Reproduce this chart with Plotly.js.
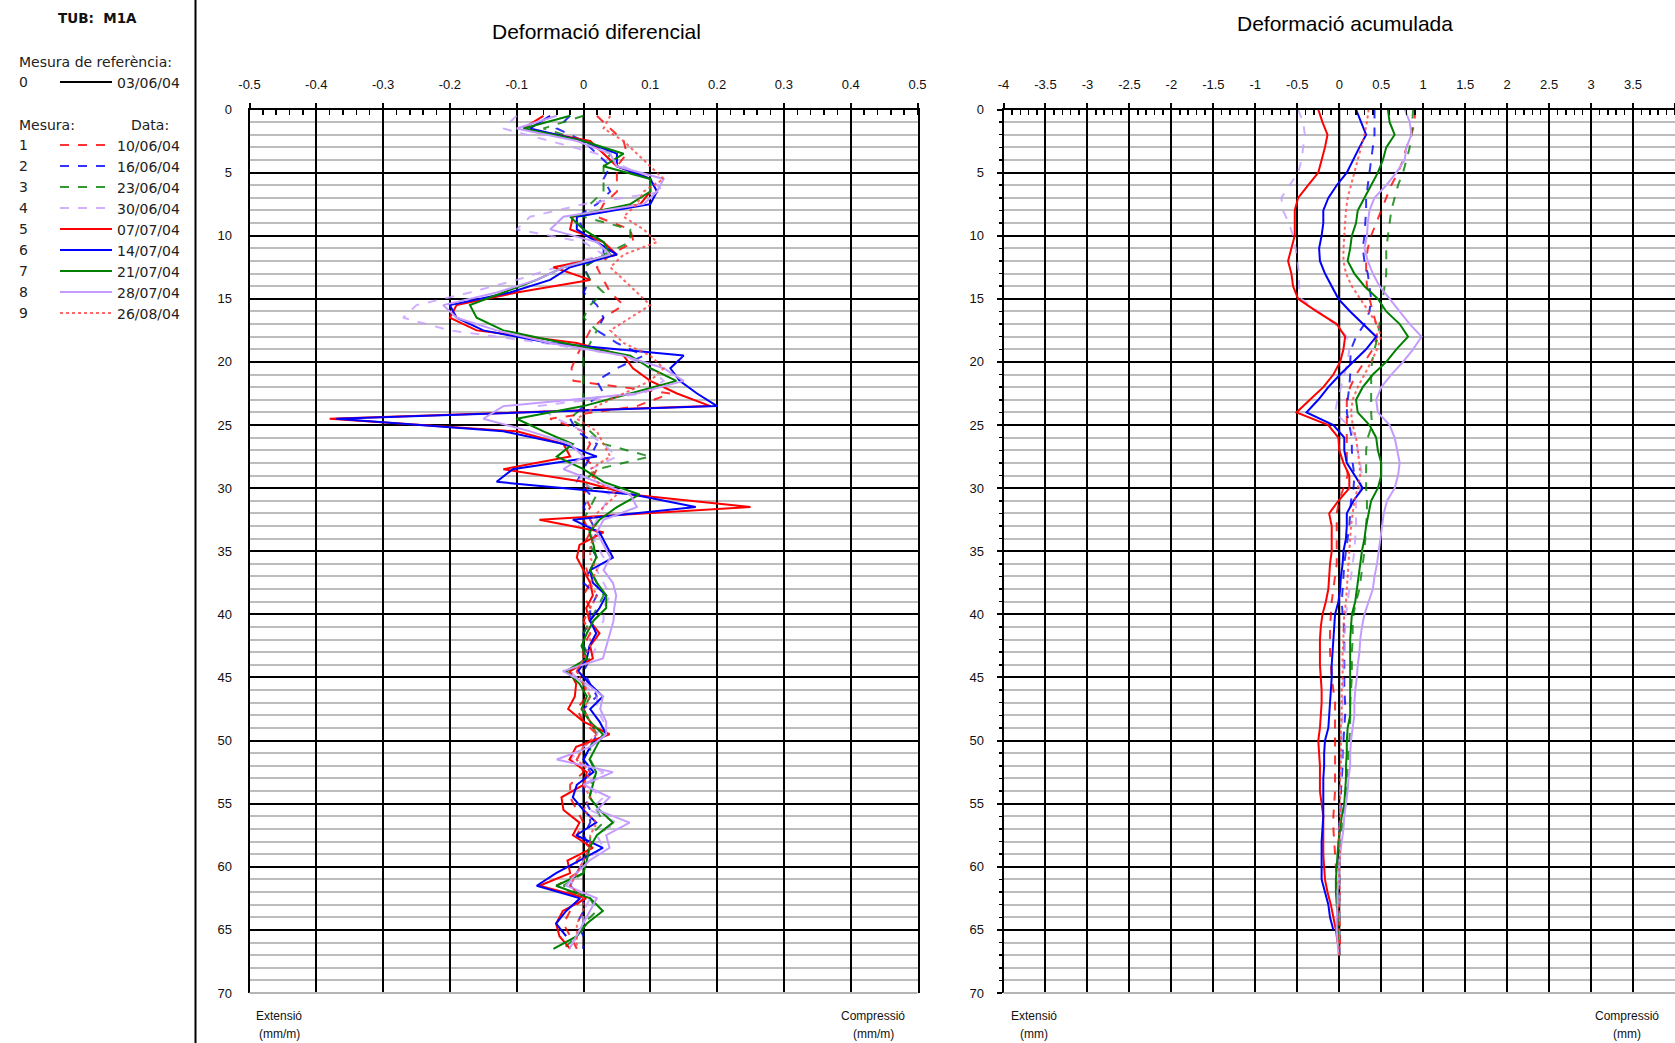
<!DOCTYPE html>
<html><head><meta charset="utf-8">
<script src="https://cdn.plot.ly/plotly-3.0.1.min.js"></script>
<style>html,body{margin:0;padding:0;background:#fff}#chart{width:1675px;height:1043px}</style>
</head><body><div id="chart"></div>
<script>
// ---------- DATA ----------
const depthDiff = [0.5,1.5,2.5,3.5,4.5,5.5,6.5,7.5,8.5,9.5,10.5,11.5,12.5,13.5,14.5,15.5,16.5,17.5,18.5,19.5,20.5,21.5,22.5,23.5,24.5,25.5,26.5,27.5,28.5,29.5,30.5,31.5,32.5,33.5,34.5,35.5,36.5,37.5,38.5,39.5,40.5,41.5,42.5,43.5,44.5,45.5,46.5,47.5,48.5,49.5,50.5,51.5,52.5,53.5,54.5,55.5,56.5,57.5,58.5,59.5,60.5,61.5,62.5,63.5,64.5,65.5,66.5];
const depthAcc = [0,1,2,3,4,5,6,7,8,9,10,11,12,13,14,15,16,17,18,19,20,21,22,23,24,25,26,27,28,29,30,31,32,33,34,35,36,37,38,39,40,41,42,43,44,45,46,47,48,49,50,51,52,53,54,55,56,57,58,59,60,61,62,63,64,65,66,67];

const measureNums  = ['0','1','2','3','4','5','6','7','8','9'];
const measureDates = ['03/06/04','10/06/04','16/06/04','23/06/04','30/06/04','07/07/04','14/07/04','21/07/04','28/07/04','26/08/04'];

const diffTicksVal  = [-0.5,-0.4,-0.3,-0.2,-0.1,0,0.1,0.2,0.3,0.4,0.5];
const diffTicksText = ['-0.5','-0.4','-0.3','-0.2','-0.1','0','0.1','0.2','0.3','0.4','0.5'];
const accTicksVal   = [-4,-3.5,-3,-2.5,-2,-1.5,-1,-0.5,0,0.5,1,1.5,2,2.5,3,3.5,4];
const accTicksText  = ['-4','-3.5','-3','-2.5','-2','-1.5','-1','-0.5','0','0.5','1','1.5','2','2.5','3','3.5','4'];

// Deformació diferencial (mm/m)
const diff0 = [0,0,0,0,0,0,0,0,0,0,0,0,0,0,0,0,0,0,0,0,0,0,0,0,0,0,0,0,0,0,0,0,0,0,0,0,0,0,0,0,0,0,0,0,0,0,0,0,0,0,0,0,0,0,0,0,0,0,0,0,0,0,0,0,0,0,0];
const diff1 = [0.02,0.04,0.06,0.065,0.05,0.05,0.05,0.03,0.02,0.07,0.075,0.04,0.02,0.03,0.04,0.06,0.03,0.01,0.0,-0.01,-0.018,-0.015,0.13,0.08,-0.05,0.0,0.01,0.0,0.02,0.01,0.0,0.01,0.0,0.01,0.0,0.0,0.005,0.01,0.0,0.01,0.0,0.01,0.0,0.0,-0.01,0.0,0.005,-0.01,0.0,0.02,0.0,-0.01,0.0,-0.02,-0.02,-0.01,0.0,-0.01,0.01,-0.01,-0.01,-0.04,0.0,-0.02,-0.03,-0.02,-0.01];
const diff2 = [-0.02,-0.04,0.0,0.02,0.04,0.03,0.04,0.02,-0.01,0.0,0.03,0.03,0.0,0.01,0.0,0.02,0.03,0.02,0.05,0.09,0.05,0.02,0.03,0.0,-0.02,-0.01,0.02,0.01,0.0,-0.01,0.01,0.0,0.01,0.02,0.01,0.02,0.01,0.0,0.02,0.01,0.01,0.0,0.0,0.01,0.0,0.01,0.02,0.0,0.01,0.02,0.01,0.0,0.01,0.0,0.0,0.01,0.01,0.0,0.01,0.0,-0.01,-0.02,0.0,0.0,-0.01,0.0,0.0];
const diff3 = [0.0,-0.06,0.0,0.04,0.03,0.03,0.03,0.01,0.0,0.07,0.07,0.03,0.0,0.01,0.03,0.01,0.0,0.02,0.01,0.0,0.0,0.0,0.0,0.0,-0.02,0.01,0.03,0.1,0.02,0.0,0.02,0.01,0.0,0.01,0.01,0.02,0.01,0.02,0.03,0.02,0.01,0.0,0.0,0.01,-0.02,0.0,0.01,0.0,0.01,0.02,0.01,0.01,0.02,0.01,0.01,0.02,0.03,0.01,0.01,0.0,0.0,-0.03,0.01,0.02,0.0,-0.01,-0.03];
const diff4 = [-0.1,-0.12,-0.05,0.02,0.06,0.1,0.12,0.0,-0.08,-0.1,0.0,0.03,-0.04,-0.1,-0.17,-0.25,-0.27,-0.2,-0.06,0.06,0.1,0.12,0.09,-0.07,-0.04,0.0,0.03,0.05,0.01,-0.01,0.04,0.03,0.02,0.01,0.02,0.03,0.02,0.03,0.04,0.03,0.03,0.02,0.02,0.01,-0.02,0.0,0.02,0.02,0.03,0.02,0.0,-0.02,0.03,0.0,0.03,0.01,0.05,0.02,0.03,0.0,-0.01,-0.02,0.01,0.0,0.0,-0.01,-0.02];
const diff5 = [-0.06,-0.09,0.01,0.03,0.05,0.1,0.1,0.085,-0.016,-0.02,0.03,0.05,-0.045,0.01,-0.1,-0.19,-0.2,-0.16,-0.01,0.06,0.074,0.1,0.14,0.19,-0.38,-0.1,-0.03,-0.02,-0.12,0.0,0.07,0.25,-0.066,0.03,-0.006,-0.01,0.0,0.01,0.014,0.004,0.009,0.024,0.01,0.014,-0.021,-0.011,-0.013,-0.023,0.0,0.039,-0.011,-0.021,0.005,0.0,-0.033,-0.03,-0.006,-0.016,0.014,-0.024,-0.02,-0.066,0.004,-0.031,-0.041,-0.036,-0.02];
const diff6 = [-0.05,-0.08,0.0,0.05,0.05,0.1,0.11,0.1,-0.01,-0.01,0.02,0.05,-0.02,-0.05,-0.11,-0.2,-0.19,-0.15,-0.05,0.15,0.13,0.144,0.17,0.2,-0.37,-0.12,-0.03,0.02,-0.106,-0.13,0.074,0.168,-0.016,0.024,0.034,0.044,0.01,0.014,0.034,0.024,0.01,0.019,0.009,0.005,-0.008,0.009,0.029,0.01,0.024,0.034,0.01,0.0,0.015,-0.01,-0.016,0.0,0.019,-0.011,0.029,-0.005,-0.041,-0.07,-0.005,-0.026,-0.041,-0.026,null];
const diff7 = [-0.02,-0.09,0.0,0.06,0.03,0.1,0.1,0.07,-0.02,0.0,0.03,0.04,-0.03,-0.07,-0.12,-0.17,-0.16,-0.12,-0.03,0.07,0.1,0.139,0.07,0.0,-0.1,-0.06,-0.016,-0.04,0.0,0.03,0.084,0.05,0.024,0.009,0.015,0.019,0.01,0.02,0.034,0.034,0.015,0.005,-0.003,0.005,-0.026,-0.006,0.005,-0.003,0.01,0.029,0.019,0.009,0.019,0.014,0.009,0.024,0.044,0.02,0.009,0.005,0.0,-0.041,0.01,0.029,0.005,-0.01,-0.045];
const diff8 = [-0.04,-0.1,-0.01,0.04,0.05,0.12,0.11,0.09,-0.03,-0.05,0.02,0.04,-0.03,-0.07,-0.13,-0.21,-0.19,-0.13,-0.05,0.06,0.12,0.15,0.08,-0.12,-0.15,-0.08,-0.02,0.0,-0.03,0.02,0.07,0.08,0.03,0.02,0.03,0.04,0.03,0.044,0.049,0.046,0.045,0.04,0.034,0.029,-0.031,0.005,0.029,0.025,0.034,0.034,0.01,-0.04,0.044,0.0,0.039,0.02,0.069,0.034,0.039,0.009,-0.01,-0.026,0.02,0.01,0.0,-0.01,-0.021];
const diff9 = [0.04,0.03,0.06,0.08,0.1,0.12,0.09,0.08,0.06,0.09,0.11,0.06,0.04,0.06,0.08,0.1,0.07,0.04,0.06,0.1,0.12,0.1,0.06,0.02,-0.01,0.02,0.03,0.04,0.01,0.02,0.05,0.03,0.01,0.02,0.01,0.01,0.02,0.01,0.02,0.01,0.0,0.01,0.01,0.0,-0.01,0.0,0.01,0.0,0.01,0.02,0.0,-0.01,0.01,0.0,0.01,0.0,0.02,0.01,0.01,0.0,-0.01,-0.02,0.0,0.0,-0.01,-0.01,-0.01];

// Deformació acumulada (mm)
const acc0 = [0,0,0,0,0,0,0,0,0,0,0,0,0,0,0,0,0,0,0,0,0,0,0,0,0,0,0,0,0,0,0,0,0,0,0,0,0,0,0,0,0,0,0,0,0,0,0,0,0,0,0,0,0,0,0,0,0,0,0,0,0,0,0,0,0,0,0,0];
const acc1 = [0.9,0.9,0.86,0.8,0.76,0.7,0.62,0.56,0.5,0.44,0.38,0.34,0.32,0.32,0.33,0.36,0.4,0.44,0.45,0.4,0.3,0.2,0.13,0.09,0.09,0.09,0.09,0.09,0.09,0.1,0.05,0.0,-0.03,-0.03,-0.03,-0.03,-0.03,-0.05,-0.07,-0.09,-0.1,-0.11,-0.11,-0.11,-0.1,-0.09,-0.07,-0.05,-0.05,-0.05,-0.05,-0.05,-0.05,-0.05,-0.05,-0.06,-0.07,-0.07,-0.06,-0.05,-0.04,-0.03,-0.02,-0.01,0.0,0.01,0.01,0.0];
const acc2 = [0.42,0.42,0.42,0.4,0.38,0.36,0.34,0.32,0.32,0.31,0.3,0.28,0.3,0.34,0.36,0.38,0.36,0.3,0.2,0.14,0.13,0.13,0.12,0.1,0.09,0.12,0.15,0.15,0.16,0.18,0.17,0.14,0.13,0.12,0.1,0.08,0.06,0.05,0.04,0.03,0.04,0.06,0.06,0.06,0.06,0.06,0.06,0.07,0.07,0.06,0.05,0.04,0.04,0.03,0.02,0.02,0.01,0.0,0.0,0.0,0.0,0.0,0.0,0.0,0.0,0.0,0.0,0.0];
const acc3 = [0.88,0.87,0.86,0.84,0.8,0.76,0.7,0.66,0.62,0.6,0.58,0.56,0.56,0.56,0.54,0.52,0.5,0.48,0.46,0.42,0.39,0.38,0.38,0.38,0.38,0.39,0.34,0.32,0.32,0.32,0.32,0.33,0.33,0.32,0.31,0.3,0.28,0.26,0.24,0.2,0.17,0.16,0.16,0.15,0.15,0.15,0.14,0.13,0.13,0.13,0.12,0.11,0.1,0.09,0.08,0.07,0.05,0.03,0.02,0.01,0.0,0.0,0.0,0.0,0.0,0.0,0.0,0.0];
const acc4 = [-0.49,-0.43,-0.41,-0.43,-0.45,-0.49,-0.59,-0.69,-0.67,-0.6,-0.55,-0.52,-0.5,-0.48,-0.48,-0.45,-0.25,-0.05,0.09,0.12,0.1,0.06,0.02,-0.02,-0.05,0.1,0.2,0.22,0.25,0.27,0.25,0.2,0.2,0.2,0.19,0.18,0.16,0.14,0.12,0.1,0.08,0.07,0.06,0.06,0.05,0.05,0.04,0.04,0.04,0.03,0.03,0.03,0.02,0.02,0.01,0.01,0.01,0.0,0.0,0.0,0.0,0.0,0.0,0.0,0.0,0.0,0.0,0.0];
const acc5 = [-0.25,-0.2,-0.14,-0.17,-0.21,-0.25,-0.37,-0.49,-0.53,-0.53,-0.53,-0.57,-0.61,-0.57,-0.55,-0.49,-0.27,-0.03,0.07,0.05,0.01,-0.07,-0.19,-0.35,-0.51,-0.13,-0.01,0.0,0.05,0.12,0.12,-0.01,-0.12,-0.09,-0.09,-0.09,-0.11,-0.12,-0.13,-0.16,-0.2,-0.22,-0.23,-0.23,-0.23,-0.22,-0.21,-0.21,-0.22,-0.23,-0.25,-0.24,-0.23,-0.23,-0.23,-0.21,-0.19,-0.19,-0.19,-0.19,-0.18,-0.17,-0.14,-0.1,-0.07,-0.04,-0.02,null];
const acc6 = [0.2,0.26,0.32,0.24,0.16,0.09,-0.03,-0.13,-0.19,-0.19,-0.21,-0.24,-0.23,-0.17,-0.09,-0.01,0.13,0.28,0.44,0.32,0.16,0.01,-0.13,-0.25,-0.39,-0.07,0.06,0.06,0.09,0.19,0.28,0.17,0.09,0.09,0.08,0.05,0.04,0.02,0.01,-0.01,-0.05,-0.06,-0.07,-0.08,-0.09,-0.09,-0.1,-0.11,-0.12,-0.13,-0.17,-0.18,-0.18,-0.19,-0.19,-0.19,-0.19,-0.2,-0.21,-0.21,-0.21,-0.21,-0.17,-0.13,-0.11,-0.07,null,null];
const acc7 = [0.58,0.6,0.66,0.56,0.52,0.46,0.38,0.3,0.22,0.2,0.15,0.13,0.1,0.18,0.3,0.46,0.56,0.72,0.82,0.68,0.56,0.4,0.28,0.2,0.22,0.36,0.44,0.46,0.5,0.5,0.46,0.38,0.35,0.32,0.3,0.27,0.25,0.23,0.21,0.19,0.15,0.14,0.13,0.13,0.13,0.13,0.13,0.13,0.13,0.1,0.09,0.09,0.08,0.08,0.07,0.06,0.03,0.01,-0.01,-0.02,-0.03,-0.04,-0.04,-0.03,-0.02,-0.02,-0.01,0.0];
const acc8 = [0.78,0.84,0.86,0.8,0.78,0.68,0.56,0.42,0.36,0.34,0.33,0.3,0.34,0.4,0.48,0.6,0.72,0.84,0.98,0.88,0.76,0.62,0.5,0.44,0.46,0.6,0.66,0.69,0.72,0.7,0.66,0.57,0.53,0.51,0.49,0.47,0.45,0.42,0.4,0.35,0.3,0.27,0.25,0.24,0.22,0.21,0.19,0.18,0.18,0.16,0.14,0.13,0.13,0.11,0.1,0.08,0.06,0.05,0.03,0.01,0.0,-0.01,-0.02,-0.02,-0.03,-0.03,-0.02,-0.01];
const acc9 = [0.35,0.33,0.3,0.26,0.22,0.18,0.14,0.1,0.08,0.07,0.06,0.05,0.05,0.08,0.15,0.25,0.35,0.45,0.5,0.45,0.38,0.3,0.22,0.16,0.14,0.16,0.2,0.22,0.24,0.25,0.22,0.18,0.16,0.14,0.13,0.12,0.11,0.1,0.09,0.08,0.06,0.05,0.05,0.04,0.04,0.04,0.03,0.03,0.03,0.02,0.02,0.02,0.02,0.01,0.01,0.01,0.01,0.0,0.0,0.01,0.0,0.0,0.01,0.0,0.0,0.0,0.0,0.0];

const diffSeries = [diff0,diff1,diff2,diff3,diff4,diff5,diff6,diff7,diff8,diff9];
const accSeries  = [acc0,acc1,acc2,acc3,acc4,acc5,acc6,acc7,acc8,acc9];

// ---------- STYLE ----------
const seriesColor = ['#000000','#ff0000','#0000ff','#008000','#c49cff','#ff0000','#0000ff','#008000','#c49cff','#ff4040'];
const seriesDash  = ['solid','dash','dash','dash','dash','solid','solid','solid','solid','dot'];
const seriesOpac  = [1,0.8,0.8,0.8,0.8,1,1,1,1,0.8];

const W = 1675, H = 1043;
const px = x => x / W;
const py = y => 1 - y / H;
const FONT = 'Liberation Sans, Arial, sans-serif';
const LFONT = 'DejaVu Sans, Verdana, sans-serif';
const legendRowY = [82,145,166,187,208,229,250,271,292,313];

const traces = [];
for (let i = 0; i < 10; i++) {
  traces.push({
    x: diffSeries[i], y: depthDiff, xaxis: 'x', yaxis: 'y', type: 'scatter', mode: 'lines',
    line: {color: seriesColor[i], width: 2, dash: seriesDash[i]}, opacity: seriesOpac[i],
    name: measureDates[i], legend: i === 0 ? 'legend' : 'legend' + (i + 1), showlegend: true,
    hoverinfo: 'skip', connectgaps: false
  });
}
for (let i = 0; i < 10; i++) {
  traces.push({
    x: accSeries[i], y: depthAcc, xaxis: 'x2', yaxis: 'y2', type: 'scatter', mode: 'lines',
    line: {color: seriesColor[i], width: 2, dash: seriesDash[i]}, opacity: seriesOpac[i],
    name: measureDates[i], showlegend: false, hoverinfo: 'skip', connectgaps: false
  });
}

const xBase = {
  side: 'top', showgrid: true, gridcolor: '#000', gridwidth: 2, zeroline: false,
  showline: true, linecolor: '#000', linewidth: 2, mirror: false,
  tickmode: 'array', ticks: 'outside', ticklen: 5, tickwidth: 2, tickcolor: '#000',
  ticklabelstandoff: 8,
  tickfont: {family: FONT, size: 13, color: '#111'}, fixedrange: true
};
const yBase = {
  range: [70, 0], tickmode: 'linear', tick0: 0, dtick: 5, showgrid: true, gridcolor: '#000', gridwidth: 2,
  zeroline: false, showline: true, linecolor: '#000', linewidth: 2, mirror: true,
  tickfont: {family: FONT, size: 13, color: '#111'}, fixedrange: true,
  domain: [py(993), py(109.5)]
};

const layout = {
  width: W, height: H, margin: {l: 0, r: 0, t: 0, b: 0},
  paper_bgcolor: '#fff', plot_bgcolor: '#fff',
  font: {family: FONT, color: '#111'},
  xaxis: Object.assign({}, xBase, {
    domain: [px(249.5), px(917.5)], range: [-0.5, 0.5], anchor: 'y',
    tickvals: diffTicksVal, ticktext: diffTicksText,
    minor: {tickmode: 'linear', tick0: 0, dtick: 0.02, ticks: 'inside', ticklen: 5, tickwidth: 1.5, tickcolor: '#000', showgrid: false}
  }),
  yaxis: Object.assign({}, yBase, {
    anchor: 'x', ticks: '', ticklabelstandoff: 13,
    minor: {dtick: 1, showgrid: true, gridcolor: '#bdbdbd', gridwidth: 2, ticks: ''}
  }),
  xaxis2: Object.assign({}, xBase, {
    domain: [px(1003.5), 1], range: [-4, 4], anchor: 'y2',
    tickvals: accTicksVal, ticktext: accTicksText,
    minor: {tickmode: 'linear', tick0: 0, dtick: 0.1, ticks: 'inside', ticklen: 5, tickwidth: 1.5, tickcolor: '#000', showgrid: false}
  }),
  yaxis2: Object.assign({}, yBase, {
    anchor: 'x2', ticks: 'outside', ticklen: 5, tickwidth: 2, tickcolor: '#000', ticklabelstandoff: 10,
    minor: {dtick: 1, showgrid: true, gridcolor: '#bdbdbd', gridwidth: 2, ticks: 'outside', ticklen: 3, tickwidth: 1.5, tickcolor: '#000'}
  }),
  shapes: [
    {type: 'line', xref: 'paper', yref: 'paper', x0: px(195.5), x1: px(195.5), y0: 0, y1: 1, line: {color: '#000', width: 2}},
    {type: 'line', xref: 'x domain', yref: 'y domain', x0: 0, x1: 1, y0: 0, y1: 0, line: {color: '#b5b5b5', width: 2}},
    {type: 'line', xref: 'x2 domain', yref: 'y2 domain', x0: 0, x1: 1, y0: 0, y1: 0, line: {color: '#b5b5b5', width: 2}}
  ],
  annotations: []
};

// legends (one per measurement row)
for (let i = 0; i < 10; i++) {
  const key = i === 0 ? 'legend' : 'legend' + (i + 1);
  layout[key] = {
    x: px(55), xanchor: 'left', y: py(legendRowY[i] - 15.5), yanchor: 'top',
    bgcolor: 'rgba(0,0,0,0)', borderwidth: 0, itemwidth: 52,
    font: {family: LFONT, size: 14, color: '#222'}, itemclick: false, itemdoubleclick: false
  };
  layout.annotations.push({
    xref: 'paper', yref: 'paper', x: px(17), y: py(legendRowY[i]), xanchor: 'left', yanchor: 'middle',
    text: measureNums[i], showarrow: false, font: {family: LFONT, size: 14, color: '#222'}
  });
}

const ann = (x, y, text, opts) => Object.assign({
  xref: 'paper', yref: 'paper', x: px(x), y: py(y), text: text, showarrow: false,
  xanchor: 'center', yanchor: 'middle', font: {family: FONT, size: 12, color: '#111'}
}, opts || {});

layout.annotations.push(
  ann(97, 18, '<b>TUB:  M1A</b>', {font: {family: LFONT, size: 13.5, color: '#111'}}),
  ann(17, 62, 'Mesura de referència:', {xanchor: 'left', font: {family: LFONT, size: 14, color: '#222'}}),
  ann(17, 125, 'Mesura:', {xanchor: 'left', font: {family: LFONT, size: 14, color: '#222'}}),
  ann(171, 125, 'Data:', {xanchor: 'right', font: {family: LFONT, size: 14, color: '#222'}}),
  ann(596, 31, 'Deformació diferencial', {font: {family: FONT, size: 21, color: '#000'}}),
  ann(1345, 23.5, 'Deformació acumulada', {font: {family: FONT, size: 21, color: '#000'}}),
  ann(279, 1016, 'Extensió'), ann(279, 1034, '(mm/m)'),
  ann(873, 1016, 'Compressió'), ann(873, 1034, '(mm/m)'),
  ann(1034, 1016, 'Extensió'), ann(1034, 1034, '(mm)'),
  ann(1627, 1016, 'Compressió'), ann(1627, 1034, '(mm)')
);

Plotly.newPlot('chart', traces, layout, {displayModeBar: false, staticPlot: true});
</script>
</body></html>
